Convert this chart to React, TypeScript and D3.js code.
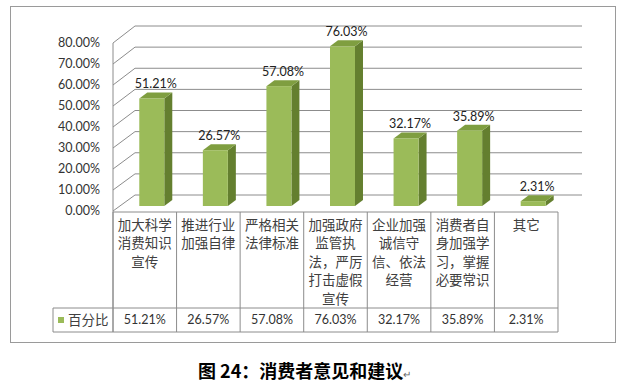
import React from "react";
import * as d3 from "d3";

const categories: string[][] = [
  ["加大科学", "消费知识", "宣传"],
  ["推进行业", "加强自律"],
  ["严格相关", "法律标准"],
  ["加强政府", "监管执", "法，严厉", "打击虚假", "宣传"],
  ["企业加强", "诚信守", "信、依法", "经营"],
  ["消费者自", "身加强学", "习，掌握", "必要常识"],
  ["其它"],
];
const values: number[] = [51.21, 26.57, 57.08, 76.03, 32.17, 35.89, 2.31];
const valueLabels: string[] = ["51.21%", "26.57%", "57.08%", "76.03%", "32.17%", "35.89%", "2.31%"];
const ticks: number[] = [0, 10, 20, 30, 40, 50, 60, 70, 80];
const seriesName = "百分比";
const title = "图 24：消费者意见和建议";

export default function App() {
  const W = 629, H = 386;
  const left = 113, colW = 63.57;
  const dx = 22; // wall depth
  const yFront = d3.scaleLinear().domain([0, 80]).range([211, 43]);
  const yBack = d3.scaleLinear().domain([0, 80]).range([195, 26]);
  const yBar = d3.scaleLinear().domain([0, 80]).range([206, 38]);
  const x = d3.scaleBand<number>().domain(d3.range(values.length)).range([left, left + colW * values.length]);
  const bw = 25, bdx = 8, bdy = -6;
  const grid = "#8c8c8c";
  const tableTop = 212, catBottom = 308, tableBottom = 332, legLeft = 53;
  const right = left + colW * values.length;
  const font = "Lato, 'Noto Sans CJK SC', sans-serif";
  const cjk = "'Noto Sans CJK SC', sans-serif";

  return (
    <svg width={W} height={H} style={{ position: "absolute", left: 0, top: 0, background: "#fff" }}>
      <rect x={10.5} y={6.5} width={605} height={336} fill="#fff" stroke="#9a9a9a" strokeWidth={1} />
      {/* walls and gridlines */}
      {ticks.map((t) => (
        <g key={t}>
          <line x1={left} y1={yFront(t)} x2={left + dx} y2={yBack(t)} stroke={grid} />
          <line x1={left + dx} y1={yBack(t)} x2={582} y2={yBack(t)} stroke={grid} />
          <text x={100} y={yFront(t)} dy="0.35em" textAnchor="end" fontFamily={font} fontSize={12.5} fill="#333">
            {t.toFixed(2) + "%"}
          </text>
        </g>
      ))}
      <line x1={left} y1={yFront(80)} x2={left} y2={tableBottom} stroke={grid} />
      {/* bars */}
      {values.map((v, i) => {
        const cx = (x(i) as number) + x.bandwidth() / 2 + 7;
        const x0 = cx - bw / 2, x1 = cx + bw / 2;
        const yb = yBar(0), yt = yBar(v);
        return (
          <g key={i}>
            <polygon points={`${x1},${yb} ${x1 + bdx},${yb + bdy} ${x1 + bdx},${yt + bdy} ${x1},${yt}`} fill="#647f2f" />
            <polygon points={`${x0},${yt} ${x1},${yt} ${x1 + bdx},${yt + bdy} ${x0 + bdx},${yt + bdy}`} fill="#7f9e40" />
            <rect x={x0} y={yt} width={bw} height={yb - yt} fill="#9bbb59" />
            <text x={cx + 4} y={yt + bdy - 4} textAnchor="middle" fontFamily={font} fontSize={12.5} fill="#222">
              {valueLabels[i]}
            </text>
          </g>
        );
      })}
      {/* table */}
      <line x1={left} y1={tableTop} x2={right} y2={tableTop} stroke={grid} />
      <line x1={legLeft} y1={catBottom} x2={right} y2={catBottom} stroke={grid} />
      <line x1={legLeft} y1={tableBottom} x2={right} y2={tableBottom} stroke={grid} />
      <line x1={legLeft} y1={catBottom} x2={legLeft} y2={tableBottom} stroke={grid} />
      {d3.range(values.length + 1).map((i) => (
        <line key={i} x1={left + i * colW} y1={tableTop} x2={left + i * colW} y2={tableBottom} stroke={grid} />
      ))}
      {categories.map((lines, i) => (
        <g key={i}>
          {lines.map((s, j) => (
            <text key={j} x={(x(i) as number) + x.bandwidth() / 2} y={225 + j * 18.5} dy="0.35em" textAnchor="middle" fontFamily={cjk} fontSize={13.5} fill="#404040">
              {s}
            </text>
          ))}
          <text x={(x(i) as number) + x.bandwidth() / 2} y={320} dy="0.35em" textAnchor="middle" fontFamily={font} fontSize={12.5} fill="#333">
            {valueLabels[i]}
          </text>
        </g>
      ))}
      <rect x={58} y={317} width={6} height={6} fill="#9bbb59" />
      <text x={68} y={320} dy="0.35em" fontFamily={cjk} fontSize={13.5} fill="#404040">{seriesName}</text>
      {/* title */}
      <text x={198} y={372} dy="0.35em" fontFamily={cjk} fontWeight="bold" fontSize={18} fill="#000">
        {title}
        <tspan fontSize={10} fill="#666" fontWeight="normal">↵</tspan>
      </text>
    </svg>
  );
}
